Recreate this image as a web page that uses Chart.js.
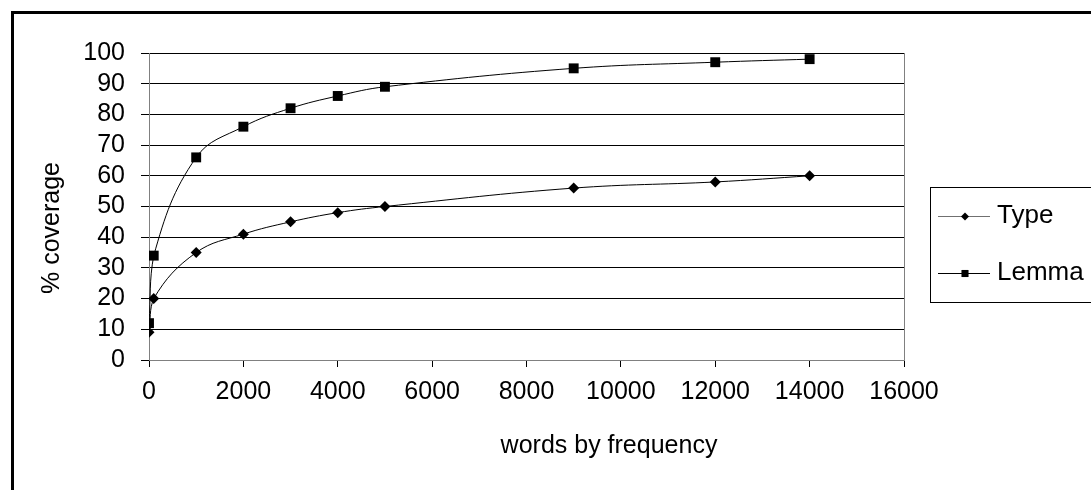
<!DOCTYPE html>
<html>
<head>
<meta charset="utf-8">
<style>
  html, body { margin: 0; padding: 0; background: #fff; overflow: hidden; }
</style>
</head>
<body>
<canvas id="myChart" width="1091" height="490"></canvas>
<script src="https://cdn.jsdelivr.net/npm/chart.js@4/dist/chart.umd.min.js"></script>
<script>
const ctx = document.getElementById("myChart").getContext("2d");

// words by frequency (x) shared by both series
const wordCounts = [0, 100, 1000, 2000, 3000, 4000, 5000, 9000, 12000, 14000];
const typeCoverage = [9, 20, 35, 41, 45, 48, 50, 56, 58, 60];
const lemmaCoverage = [12, 34, 66, 76, 82, 86, 89, 95, 97, 98];
const seriesNames = ["Type", "Lemma"];
const xTitle = "words by frequency";
const yTitle = "% coverage";

const FONT = "'Liberation Sans', Arial, sans-serif";
const FONT_SIZE = 25;

const toPoints = (ys) => wordCounts.map((x, i) => ({ x: x, y: ys[i] }));

// outer frame, right edge of plot, axis titles and the boxed legend
const decorations = {
    id: "decorations",
    beforeDraw(chart) {
        const c = chart.ctx;
        c.save();
        c.fillStyle = "#fff";
        c.fillRect(0, 0, chart.width, chart.height);
        c.strokeStyle = "#000";
        c.lineWidth = 3;
        c.strokeRect(12.5, 12.5, 2000, 2000);
        c.restore();
    },
    afterDraw(chart) {
        const c = chart.ctx;
        const area = chart.chartArea;
        c.save();
        // right border of plot area
        c.strokeStyle = "#808080";
        c.lineWidth = 1;
        c.beginPath();
        c.moveTo(Math.round(area.right) + 0.5, area.top);
        c.lineTo(Math.round(area.right) + 0.5, area.bottom);
        c.stroke();

        // axis titles
        c.fillStyle = "#000";
        c.font = FONT_SIZE + "px " + FONT;
        c.textAlign = "center";
        c.textBaseline = "middle";
        c.fillText(xTitle, 609, 446);
        c.translate(52, 228);
        c.rotate(-Math.PI / 2);
        c.fillText(yTitle, 0, 0);
        c.restore();

        // legend
        c.save();
        c.strokeStyle = "#000";
        c.lineWidth = 1;
        c.strokeRect(930.5, 187.5, 300, 115);
        const rows = [216, 273];
        chart.data.datasets.forEach((ds, i) => {
            const y = rows[i];
            c.strokeStyle = i === 0 ? "#707070" : "#000";
            c.beginPath();
            c.moveTo(938, y + 0.5);
            c.lineTo(990, y + 0.5);
            c.stroke();
            c.fillStyle = "#000";
            Chart.helpers.drawPoint(c, {
                pointStyle: ds.pointStyle,
                radius: i === 0 ? 4 : 5,
                rotation: 0,
                borderWidth: 0
            }, 965, y + 0.5);
            c.fillStyle = "#000";
            c.font = "26px " + FONT;
            c.textAlign = "left";
            c.textBaseline = "middle";
            c.fillText(ds.label, 997, y);
        });
        c.restore();
    }
};

const data = {
    datasets: [
        {
            label: seriesNames[0],
            data: toPoints(typeCoverage),
            borderColor: "#000",
            borderWidth: 1,
            backgroundColor: "#000",
            pointStyle: "rectRot",
            pointRadius: 5.5,
            pointBorderWidth: 0,
            pointBackgroundColor: "#000",
            tension: 0.4,
        },
        {
            label: seriesNames[1],
            data: toPoints(lemmaCoverage),
            borderColor: "#000",
            borderWidth: 1,
            backgroundColor: "#000",
            pointStyle: "rect",
            pointRadius: 7,
            pointBorderWidth: 0,
            pointBackgroundColor: "#000",
            tension: 0.4,
        },
    ],
};

const config = {
    type: "line",
    data: data,
    plugins: [decorations],
    options: {
        responsive: false,
        animation: false,
        layout: {
            padding: { top: 53, right: 187, bottom: 0, left: 0 },
        },
        plugins: {
            legend: { display: false },
            tooltip: { enabled: false },
        },
        scales: {
            x: {
                type: "linear",
                min: 0,
                max: 16000,
                afterFit: (scale) => { scale.height = 130; },
                border: { color: "#808080", width: 1 },
                grid: {
                    drawOnChartArea: false,
                    drawTicks: true,
                    tickLength: 7,
                    color: "#000",
                },
                ticks: {
                    stepSize: 2000,
                    autoSkip: false,
                    maxRotation: 0,
                    padding: 10,
                    color: "#000",
                    font: { family: FONT, size: FONT_SIZE },
                    callback: (value) => String(value),
                },
            },
            y: {
                min: 0,
                max: 100,
                afterFit: (scale) => { scale.width = 149; },
                border: { color: "#808080", width: 1 },
                grid: {
                    color: "#000",
                    lineWidth: 1,
                    tickLength: 8,
                },
                ticks: {
                    stepSize: 10,
                    autoSkip: false,
                    padding: 16,
                    color: "#000",
                    font: { family: FONT, size: FONT_SIZE },
                    callback: (value) => String(value),
                },
            },
        },
    },
};

const myChart = new Chart(ctx, config);
</script>
</body>
</html>
